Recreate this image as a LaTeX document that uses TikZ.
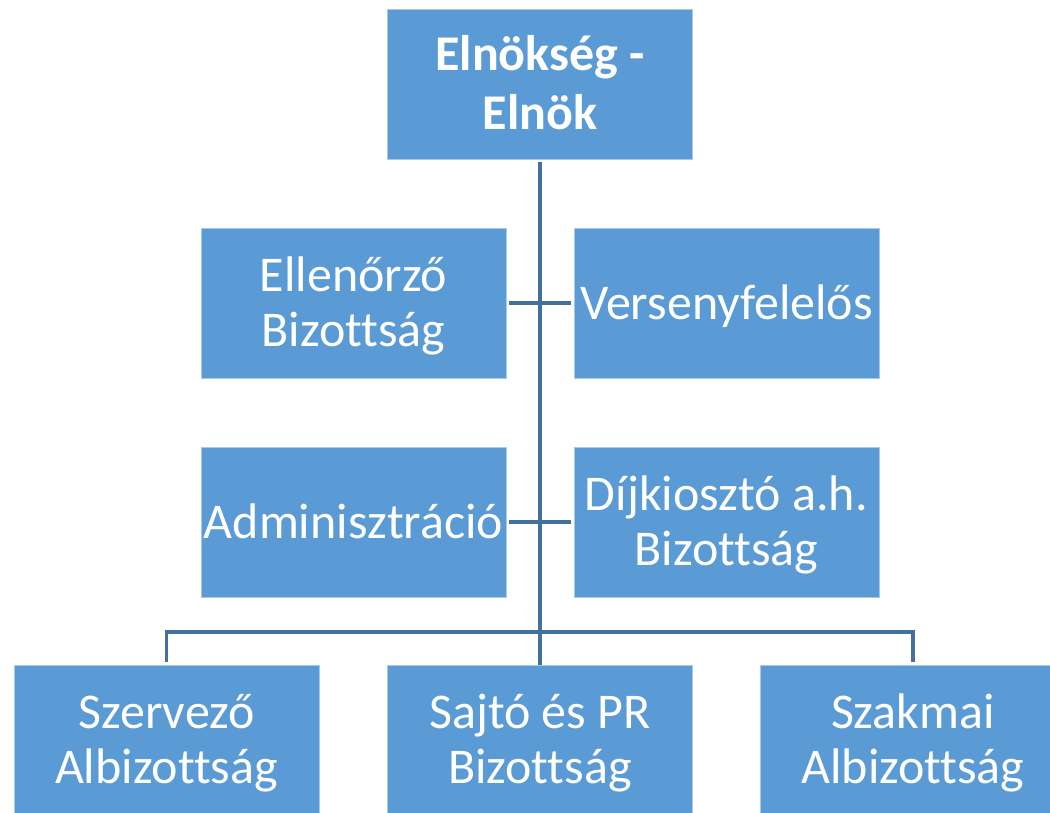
\documentclass[tikz,border=0pt]{standalone}
\usepackage{fontspec}
\setmainfont{Carlito}[Ligatures=NoCommon]
\definecolor{boxfill}{HTML}{5B9BD5}
\definecolor{boxedge}{HTML}{A9C9EA}
\definecolor{linecol}{HTML}{41719C}
\tikzset{
  orgbox/.style={rectangle, fill=boxfill, draw=boxedge, line width=0.6pt,
    minimum width=228.75pt, minimum height=112.5pt, inner sep=0pt, outer sep=0pt,
    text=white, align=center, font=\fontsize{37.5}{41.25}\selectfont,
    text height=24.2pt, text depth=0pt},
  twoline/.style={text height=65.45pt},
  topbox/.style={font=\bfseries\fontsize{37.5}{44.25}\selectfont, text height=68.45pt},
  conn/.style={draw=linecol, line width=2.4pt}
}
\begin{document}
\begin{tikzpicture}[x=0.75pt,y=-0.75pt]
\useasboundingbox (0,0) rectangle (1050,813);
\clip (0,0) rectangle (1050,813);
\node[orgbox,topbox] (top) at (540,84) {Elnökség -\\Elnök};
\node[orgbox,twoline] (l1) at (353.5,303) {Ellenőrző\\Bizottság};
\node[orgbox] (r1) at (726.5,303) {Versenyfelelős};
\node[orgbox] (l2) at (353.5,522) {Adminisztráció};
\node[orgbox,twoline] (r2) at (726.5,522) {Díjkiosztó a.h.\\Bizottság};
\node[orgbox,twoline] (b1) at (166.5,740) {Szervező\\Albizottság};
\node[orgbox,twoline] (b2) at (540,740) {Sajtó és PR\\Bizottság};
\node[orgbox,twoline] (b3) at (913,740) {Szakmai\\Albizottság};
\coordinate (bus) at (540,632);
\draw[conn] ([yshift=-2.25pt]top.south) -- (b2.north);
\draw[conn,shorten <=2.25pt,shorten >=2.25pt] (l1.east) -- (r1.west);
\draw[conn,shorten <=2.25pt,shorten >=2.25pt] (l2.east) -- (r2.west);
\draw[conn,shorten <=2.25pt,shorten >=2.25pt] (b1.north) |- (bus) -| (b3.north);
\end{tikzpicture}
\end{document}
